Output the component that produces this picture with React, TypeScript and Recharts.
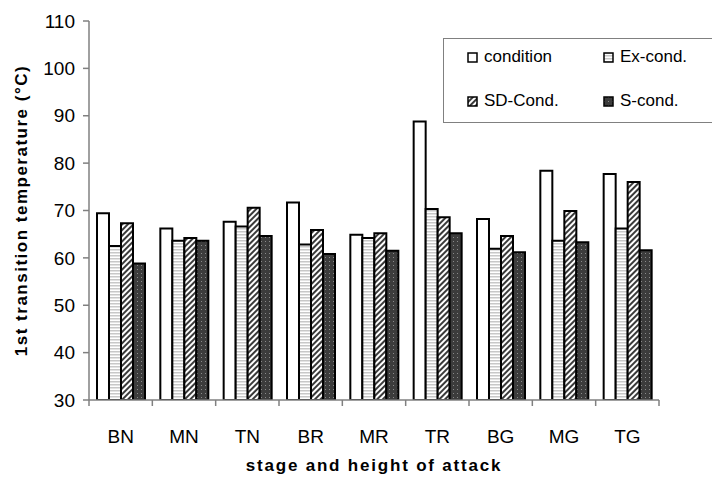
import { BarChart, Bar, XAxis, YAxis } from 'recharts';

const categories = ['BN', 'MN', 'TN', 'BR', 'MR', 'TR', 'BG', 'MG', 'TG'];
const conditionValues = [69.4, 66.2, 67.6, 71.7, 64.9, 88.8, 68.2, 78.4, 77.7];
const exCondValues = [62.5, 63.6, 66.6, 62.8, 64.2, 70.3, 61.9, 63.6, 66.2];
const sdCondValues = [67.3, 64.2, 70.6, 65.9, 65.2, 68.6, 64.6, 69.9, 76.0];
const sCondValues = [58.8, 63.6, 64.6, 60.8, 61.5, 65.2, 61.2, 63.3, 61.6];
const yTicks = [30, 40, 50, 60, 70, 80, 90, 100, 110];

const data = categories.map((name, i) => ({
  name,
  condition: conditionValues[i],
  exCond: exCondValues[i],
  sdCond: sdCondValues[i],
  sCond: sCondValues[i],
}));

const series = [
  { key: 'condition', label: 'condition', fill: '#ffffff' },
  { key: 'exCond', label: 'Ex-cond.', fill: 'url(#patEx)' },
  { key: 'sdCond', label: 'SD-Cond.', fill: 'url(#patSD)' },
  { key: 'sCond', label: 'S-cond.', fill: 'url(#patS)' },
];

const font = 'Arial, "Liberation Sans", Helvetica, sans-serif';

function XTick(props: any) {
  const { x, y, payload, index, width } = props;
  const band = width / categories.length;
  const isLast = index === categories.length - 1;
  return (
    <g>
      <line x1={x - band / 2} y1={y} x2={x - band / 2} y2={y + 6} stroke="#808080" strokeWidth={1.5} />
      {isLast && (
        <line x1={x + band / 2} y1={y} x2={x + band / 2} y2={y + 6} stroke="#808080" strokeWidth={1.5} />
      )}
      <text x={x} y={y + 43} textAnchor="middle" fontSize={19} fontFamily={font} fill="#000">
        {payload.value}
      </text>
    </g>
  );
}

// legend box sits over the top-right of the plot, like the original
function LegendBox() {
  return (
    <div
      style={{
        position: 'absolute',
        left: 443,
        top: 38,
        width: 269,
        height: 85,
        border: '1.5px solid #808080',
        borderRight: 'none',
        background: '#fff',
        boxSizing: 'border-box',
        fontFamily: font,
        fontSize: 17,
      }}
    >
      {series.map((s, i) => (
        <div
          key={s.key}
          style={{
            position: 'absolute',
            left: i % 2 === 0 ? 23 : 159,
            top: i < 2 ? 8 : 52,
            display: 'flex',
            alignItems: 'center',
            height: 20,
          }}
        >
          <svg width={11} height={11} style={{ marginRight: 6 }}>
            <rect x={1} y={1} width={9} height={9} fill={s.fill} stroke="#000" strokeWidth={1.5} />
          </svg>
          <span>{s.label}</span>
        </div>
      ))}
    </div>
  );
}

export default function App() {
  return (
    <div style={{ position: 'absolute', left: 0, top: 0, width: 712, height: 477, background: '#fff' }}>
      <svg width={0} height={0} style={{ position: 'absolute' }}>
        <defs>
          <pattern id="patEx" width={4} height={3} patternUnits="userSpaceOnUse">
            <rect width={4} height={3} fill="#ffffff" />
            <rect width={4} height={1.5} fill="#c8c8c8" />
          </pattern>
          <pattern id="patSD" width={4} height={4} patternUnits="userSpaceOnUse" patternTransform="rotate(45)">
            <rect width={4} height={4} fill="#ffffff" />
            <rect width={2} height={4} fill="#3a3a3a" />
          </pattern>
          <pattern id="patS" width={4} height={4} patternUnits="userSpaceOnUse">
            <rect width={4} height={4} fill="#3c3c3c" />
            <rect x={1} y={1} width={1} height={1} fill="#8a8a8a" />
          </pattern>
        </defs>
      </svg>
      <BarChart
        width={712}
        height={477}
        data={data}
        margin={{ top: 21, right: 53, left: 0, bottom: 0 }}
        barCategoryGap={8}
        barGap={0}
      >
        <XAxis
          dataKey="name"
          height={77}
          tick={<XTick />}
          tickLine={false}
          tickSize={0}
          tickMargin={0}
          interval={0}
          axisLine={{ stroke: '#808080', strokeWidth: 1.5 }}
          label={{
            value: 'stage and height of attack',
            position: 'insideBottom',
            offset: 6,
            style: { fontFamily: font, fontSize: 17, fontWeight: 'bold', fill: '#000', letterSpacing: 1.8 },
          }}
        />
        <YAxis
          width={89}
          domain={[30, 110]}
          ticks={yTicks}
          interval={0}
          allowDataOverflow
          tickSize={6}
          tickMargin={8}
          tickLine={{ stroke: '#808080', strokeWidth: 1.5 }}
          axisLine={{ stroke: '#808080', strokeWidth: 1.5 }}
          tick={{ fontFamily: font, fontSize: 19, fill: '#000' }}
          label={{
            value: '1st transition temperature (°C)',
            angle: -90,
            position: 'insideLeft',
            offset: 21,
            style: { fontFamily: font, fontSize: 17, fontWeight: 'bold', fill: '#000', textAnchor: 'middle', letterSpacing: 1.5 },
          }}
        />
        {series.map((s) => (
          <Bar
            key={s.key}
            dataKey={s.key}
            name={s.label}
            fill={s.fill}
            stroke="#000"
            strokeWidth={2}
            isAnimationActive={false}
          />
        ))}
      </BarChart>
      <LegendBox />
    </div>
  );
}
